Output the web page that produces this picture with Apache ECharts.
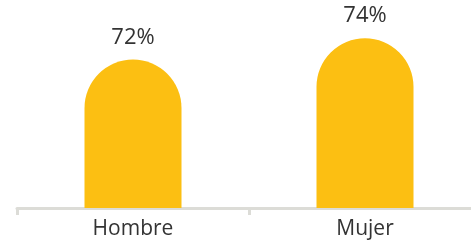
<!DOCTYPE html>
<html lang="es">
    <head>
        <meta charset="utf-8">
        <title>Hombre / Mujer</title>
        <script src="https://cdn.jsdelivr.net/npm/echarts@6/dist/echarts.min.js"></script>
        <style>
            html, body { margin: 0; padding: 0; background: #fff; }
            #chart { width: 471px; height: 246px; }
        </style>
    </head>
    <body>
        <div id="chart"></div>
        <script>
            // datos
            var categories = ['Hombre', 'Mujer'];
            var values = [72, 74];

            var myChart = echarts.init(document.getElementById('chart'));
            var option = {
                animation: false,
                grid: { left: 17, width: 464, top: 17, height: 191, outerBoundsMode: 'none' },
                xAxis: {
                    type: 'category',
                    data: categories,
                    axisLine: { lineStyle: { color: '#dcdcd7', width: 3 } },
                    axisTick: { show: true, length: 7, lineStyle: { color: '#dcdcd7', width: 3 } },
                    axisLabel: {
                        color: '#333',
                        fontSize: 21,
                        fontFamily: 'Open Sans',
                        margin: 11
                    }
                },
                yAxis: {
                    type: 'value',
                    min: 58,
                    max: 76,
                    show: false,
                    splitLine: { show: false }
                },
                series: [{
                    type: 'bar',
                    data: values,
                    barWidth: 97,
                    itemStyle: { color: '#fcbf12', borderRadius: [49, 49, 0, 0] },
                    label: {
                        show: true,
                        position: 'top',
                        distance: 11,
                        formatter: '{c}%',
                        color: '#333',
                        fontSize: 22,
                        fontFamily: 'Open Sans'
                    }
                }]
            };
            myChart.setOption(option);
        </script>
    </body>
</html>
